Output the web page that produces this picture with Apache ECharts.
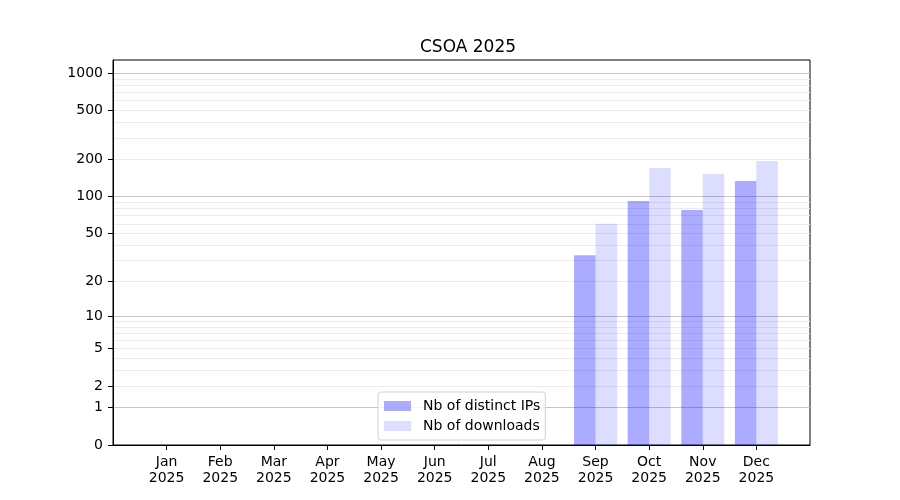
<!DOCTYPE html>
<html>
<head>
<meta charset="utf-8">
<script src="https://cdn.jsdelivr.net/npm/echarts@6/dist/echarts.min.js"></script>
<style>
  html, body { margin: 0; padding: 0; background: #fff; }
  #chart { width: 900px; height: 500px; }
</style>
</head>
<body>
<div id="chart"></div>
<script>
// values
const months = ['Jan', 'Feb', 'Mar', 'Apr', 'May', 'Jun', 'Jul', 'Aug', 'Sep', 'Oct', 'Nov', 'Dec'];
const year = '2025';
const distinctIPs = [0, 0, 0, 0, 0, 0, 0, 0, 33, 92, 78, 134];
const downloads = [0, 0, 0, 0, 0, 0, 0, 0, 60, 171, 153, 195];
const yTicks = [0, 1, 2, 5, 10, 20, 50, 100, 200, 500, 1000];
const majorGrid = [1, 10, 100, 1000];
const minorGrid = [2, 3, 4, 5, 6, 7, 8, 9, 20, 30, 40, 50, 60, 70, 80, 90, 200, 300, 400, 500, 600, 700, 800, 900];
const yTop = 1280;

// the y axis is scaled as log10(1 + v)
function tf(v) { return Math.log10(1 + v); }

function createBarChart(chartID) {
    let chartElement = document.getElementById(chartID);
    let chart = echarts.init(chartElement);

    let font = 'DejaVu Sans';
    let yMax = tf(yTop);
    let idx = months.map((m, i) => i);

    function gridAxis(values, color) {
        return {
            type: 'value',
            min: 0,
            max: yMax,
            position: 'left',
            axisLine: { show: false, onZero: false },
            axisTick: { show: false, customValues: values.map(tf) },
            axisLabel: { show: false, customValues: values.map(tf) },
            splitLine: { show: true, lineStyle: { color: color, width: 1 } }
        };
    }

    let option = {
        animation: false,
        title: {
            text: 'CSOA ' + year,
            left: 415,
            top: 34,
            textStyle: { fontFamily: font, fontSize: 17, fontWeight: 'normal', color: '#000' }
        },
        legend: {
            orient: 'vertical',
            left: 378,
            top: 392,
            padding: [7, 5, 7, 6],
            itemWidth: 27,
            itemHeight: 10,
            itemGap: 6,
            icon: 'rect',
            borderColor: '#d0d0d0',
            borderWidth: 1,
            borderRadius: 3,
            backgroundColor: 'rgba(255,255,255,0.8)',
            textStyle: { fontFamily: font, fontSize: 14, color: '#000', padding: [0, 0, 0, 7], lineHeight: 14 },
            data: ['Nb of distinct IPs', 'Nb of downloads']
        },
        grid: {
            left: 113,
            right: 90,
            top: 60,
            bottom: 55,
            show: true,
            borderColor: '#000',
            borderWidth: 1,
            backgroundColor: 'transparent'
        },
        xAxis: {
            type: 'value',
            min: -1,
            max: 12,
            axisLine: { show: true, onZero: false, lineStyle: { color: '#000', width: 1 } },
            axisTick: { show: true, length: 5, customValues: idx, lineStyle: { color: '#000', width: 1 } },
            axisLabel: {
                customValues: idx,
                formatter: (v) => months[v] + '\n' + year,
                fontFamily: font,
                fontSize: 14,
                lineHeight: 16,
                color: '#000',
                margin: 9
            },
            splitLine: { show: false }
        },
        yAxis: [
            {
                type: 'value',
                min: 0,
                max: yMax,
                position: 'left',
                axisLine: { show: true, onZero: false, lineStyle: { color: '#000', width: 1 } },
                axisTick: { show: true, length: 5, customValues: yTicks.map(tf), lineStyle: { color: '#000', width: 1 } },
                axisLabel: {
                    customValues: yTicks.map(tf),
                    formatter: function (v) {
                        let best = yTicks[0];
                        yTicks.forEach(t => { if (Math.abs(tf(t) - v) < Math.abs(tf(best) - v)) best = t; });
                        return String(best);
                    },
                    fontFamily: font,
                    fontSize: 14,
                    color: '#000',
                    margin: 10
                },
                splitLine: { show: false }
            },
            gridAxis(majorGrid, '#c6c6c6'),
            gridAxis(minorGrid, '#ececec')
        ],
        series: [
            {
                name: 'Nb of distinct IPs',
                type: 'bar',
                barWidth: 21.5,
                barGap: '0%',
                itemStyle: { color: 'rgba(0,0,255,0.33)' },
                data: distinctIPs.map((v, i) => [i, tf(v)])
            },
            {
                name: 'Nb of downloads',
                type: 'bar',
                barWidth: 21.5,
                barGap: '0%',
                itemStyle: { color: 'rgba(0,0,255,0.135)' },
                data: downloads.map((v, i) => [i, tf(v)])
            }
        ]
    };

    chart.setOption(option);
}

createBarChart('chart');
</script>
</body>
</html>
